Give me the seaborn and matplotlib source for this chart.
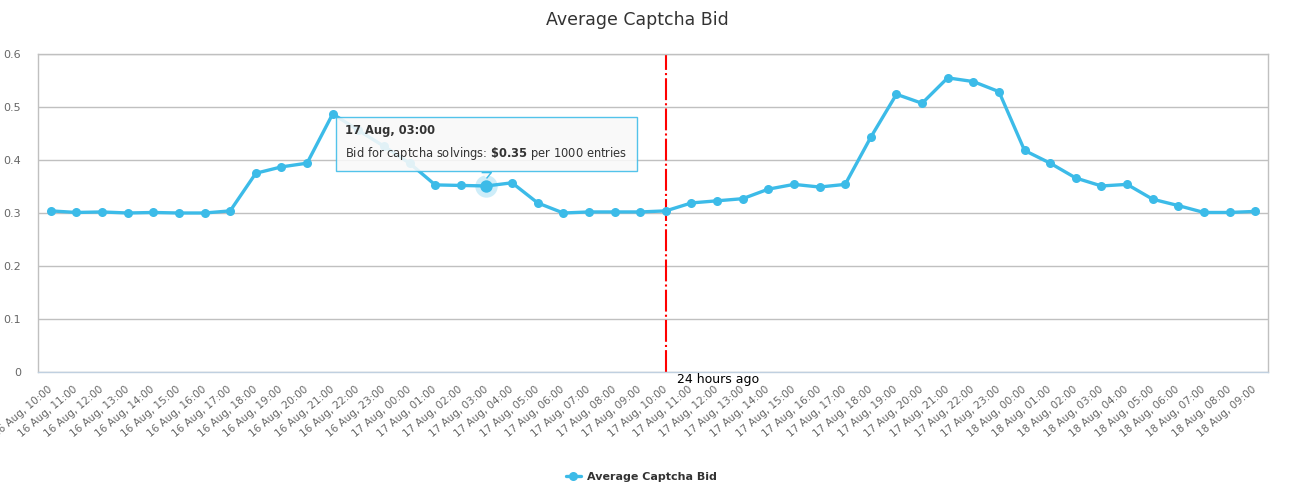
import pandas as pd
import matplotlib.pyplot as plt
import seaborn as sns
from matplotlib.lines import Line2D
from matplotlib.transforms import offset_copy

#DATA
labels = [
    '16 Aug, 10:00', '16 Aug, 11:00', '16 Aug, 12:00', '16 Aug, 13:00', '16 Aug, 14:00', '16 Aug, 15:00',
    '16 Aug, 16:00', '16 Aug, 17:00', '16 Aug, 18:00', '16 Aug, 19:00', '16 Aug, 20:00', '16 Aug, 21:00',
    '16 Aug, 22:00', '16 Aug, 23:00', '17 Aug, 00:00', '17 Aug, 01:00', '17 Aug, 02:00', '17 Aug, 03:00',
    '17 Aug, 04:00', '17 Aug, 05:00', '17 Aug, 06:00', '17 Aug, 07:00', '17 Aug, 08:00', '17 Aug, 09:00',
    '17 Aug, 10:00', '17 Aug, 11:00', '17 Aug, 12:00', '17 Aug, 13:00', '17 Aug, 14:00', '17 Aug, 15:00',
    '17 Aug, 16:00', '17 Aug, 17:00', '17 Aug, 18:00', '17 Aug, 19:00', '17 Aug, 20:00', '17 Aug, 21:00',
    '17 Aug, 22:00', '17 Aug, 23:00', '18 Aug, 00:00', '18 Aug, 01:00', '18 Aug, 02:00', '18 Aug, 03:00',
    '18 Aug, 04:00', '18 Aug, 05:00', '18 Aug, 06:00', '18 Aug, 07:00', '18 Aug, 08:00', '18 Aug, 09:00',
]
bids = [
    0.304, 0.301, 0.302, 0.300, 0.301, 0.300, 0.300, 0.304, 0.375, 0.387, 0.394, 0.487,
    0.456, 0.426, 0.394, 0.353, 0.352, 0.351, 0.357, 0.319, 0.300, 0.302, 0.302, 0.302,
    0.304, 0.319, 0.323, 0.327, 0.345, 0.354, 0.349, 0.354, 0.443, 0.524, 0.507, 0.555,
    0.548, 0.529, 0.418, 0.394, 0.366, 0.351, 0.354, 0.326, 0.314, 0.301, 0.301, 0.303,
]
yticks = [0, 0.1, 0.2, 0.3, 0.4, 0.5, 0.6]
marker_label = '17 Aug, 10:00'   # "24 hours ago" line
tooltip_label = '17 Aug, 03:00'

df = pd.DataFrame({'pos': range(len(labels)), 'bid': bids})

#STYLE
sns.set_style('white')
plt.rcParams['font.family'] = ['DejaVu Sans']
blue = '#3cbbe8'

fig = plt.figure(figsize=(12.97, 5.01), dpi=100)
ax = fig.add_axes([38 / 1297, 129 / 501, 1230 / 1297, 318 / 501])

#PLOT
sns.lineplot(data=df, x='pos', y='bid', color=blue, lw=2.4, marker='o',
             markersize=6.5, markeredgewidth=0, ax=ax, zorder=3)

#highlighted point (hover)
ti = labels.index(tooltip_label)
ax.scatter([ti], [bids[ti]], s=260, color=blue, alpha=0.25, lw=0, zorder=4)
ax.scatter([ti], [bids[ti]], s=80, color=blue, lw=0, zorder=5)

#24 hours ago line
mi = labels.index(marker_label)
ax.axvline(mi, color='red', lw=1.5, linestyle=(0, (10.5, 1.5, 1, 1.5)), zorder=2)
ax.annotate('24 hours ago', xy=(mi, 0), xytext=(11, -8), textcoords='offset pixels',
            ha='left', va='center', fontsize=9, color='black', annotation_clip=False)

#Axes
ax.set_xlim(-0.5, len(labels) - 0.5)
ax.set_ylim(0, 0.6)
ax.set_yticks(yticks)
ax.set_yticklabels([f'{v:g}' for v in yticks])
ax.set_xticks(range(len(labels)))
ax.set_xticklabels(labels)
ax.set_xticks([i - 0.5 for i in range(len(labels) + 1)], minor=True)
ax.tick_params(axis='x', which='major', length=0, pad=11.5, labelsize=7.5, labelcolor='#666666')
ax.tick_params(axis='x', which='minor', length=7, width=1, color='#C0D0E0', direction='out')
ax.tick_params(axis='y', length=0, pad=12, labelsize=8, labelcolor='#666666')
plt.setp(ax.get_xticklabels(), rotation=40, ha='right', va='center', rotation_mode='anchor')
ax.set_xlabel('')
ax.set_ylabel('')
ax.yaxis.grid(True, color='#C0C0C0', lw=1)
ax.set_axisbelow(True)
for side in ['top', 'left', 'right']:
    ax.spines[side].set_color('#C0C0C0')
    ax.spines[side].set_linewidth(1)
ax.spines['bottom'].set_color('#C0D0E0')
ax.spines['bottom'].set_linewidth(1)

#Tooltip
body = r'Bid for captcha solvings: $\bf{\$0.35}$ per 1000 entries'
ax.annotate(' \n' + body, xy=(ti, bids[ti]), xytext=(-141, 43), textcoords='offset pixels',
            ha='left', va='center', linespacing=1.6, fontsize=8.3, color='#333333', zorder=6,
            bbox=dict(boxstyle='square,pad=0.8', fc='#f9f9f9', ec=blue, lw=1, alpha=0.88))
ax.annotate(tooltip_label, xy=(ti, bids[ti]), xytext=(-141, 55), textcoords='offset pixels',
            ha='left', va='center', fontsize=8.3, fontweight='bold', color='#333333', zorder=7)
ax.plot([ti], [bids[ti]], linestyle='none', marker=[(-5, 3), (5, 3), (0, -3)],
        markersize=7, mfc='#f9f9f9', mec=blue, mew=1, zorder=5.5,
        transform=offset_copy(ax.transData, fig=fig, x=0, y=11, units='dots'))

#Title and legend
fig.text(637 / 1297, 1 - 20 / 501, 'Average Captcha Bid', ha='center', va='center',
         fontsize=12.5, color='#333333')
handle = Line2D([0], [0], color=blue, lw=2.4, marker='o', markersize=6.5, markeredgewidth=0)
fig.legend(handles=[handle], labels=['Average Captcha Bid'], loc='center',
           bbox_to_anchor=(641 / 1297, 1 - 477 / 501), frameon=False,
           prop={'weight': 'bold', 'size': 8}, handlelength=1.4, handletextpad=0.5,
           labelcolor='#333333')

plt.savefig('out.png', dpi=100)
